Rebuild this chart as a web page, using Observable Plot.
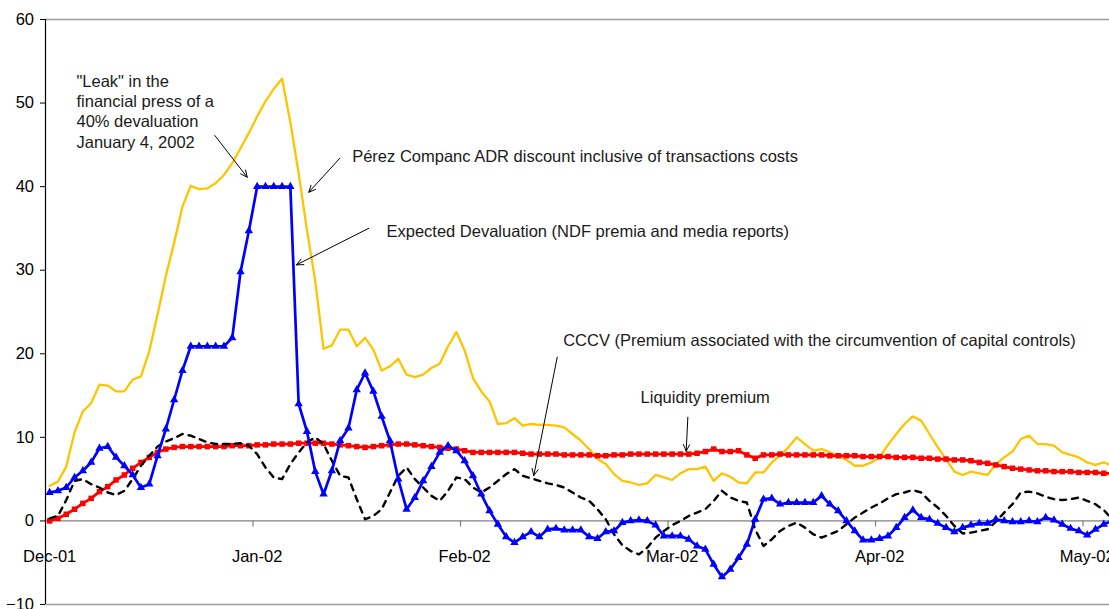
<!DOCTYPE html>
<html>
<head>
<meta charset="utf-8">
<script src="https://cdn.jsdelivr.net/npm/d3@7"></script>
<script src="https://cdn.jsdelivr.net/npm/@observablehq/plot@0.6"></script>
<style>
  html, body { margin: 0; padding: 0; background: #fff; }
  #chart svg { display: block; }
</style>
</head>
<body>
<div id="chart"></div>
<script>
const monthLabels = ["Dec-01", "Jan-02", "Feb-02", "Mar-02", "Apr-02", "May-02"];
const monthIndex = [0, 25, 50, 75, 100, 125];
const yTicks = [-10, 0, 10, 20, 30, 40, 50, 60];

// Pérez Companc ADR discount inclusive of transactions costs (yellow)
const adrDiscount = [
  4.2, 4.7, 6.5, 10.6, 13.1, 14.1, 16.3, 16.2, 15.5, 15.5, 16.9, 17.3, 20.3, 24.7, 29.3, 33.3, 37.6,
  40.1, 39.7, 39.8, 40.4, 41.4, 42.8, 44.6, 46.4, 48.4, 50.2, 51.7, 52.9, 47.7, 41.6, 34.8, 28.7,
  20.6, 21.0, 22.9, 22.9, 20.9, 21.9, 20.5, 18.0, 18.5, 19.4, 17.5, 17.2, 17.5, 18.3, 18.8, 20.9, 22.6, 20.4,
  17.1, 15.5, 14.3, 11.6, 11.7, 12.3, 11.4, 11.6, 11.5, 11.5, 11.4, 11.2, 10.4, 9.6, 8.6, 7.4,
  6.8, 5.6, 4.8, 4.6, 4.3, 4.5, 5.5, 5.2, 4.9, 5.7, 6.2, 6.2, 6.5, 4.8, 5.7, 5.3, 4.6, 4.5, 5.8, 5.8, 7.0, 7.8,
  8.8, 10.0, 9.2, 8.4, 8.6, 8.2, 7.8, 7.3, 6.6, 6.6, 7.0, 7.6, 9.1, 10.4, 11.6, 12.5, 12.0, 10.4, 8.8, 7.4, 5.9, 5.5,
  5.9, 5.7, 5.5, 6.8, 7.6, 8.3, 9.8, 10.2, 9.2, 9.2, 9.0, 8.2, 7.9, 7.6, 7.0, 6.7, 7.0, 6.6
];

// Expected Devaluation (NDF premia and media reports) (blue, triangles)
const expectedDevaluation = [
  3.4, 3.6, 4.0, 5.2, 6.0, 7.0, 8.7, 8.9, 7.6, 6.6, 5.5, 4.0, 4.4, 7.8, 11.0, 14.5, 18.0, 20.9, 20.9, 20.9, 20.9, 20.9, 21.9,
  29.8, 34.7, 40, 40, 40, 40, 40,
  14.0, 10.7, 5.9, 3.2, 6.0, 9.6, 11.1, 15.7, 17.7, 15.5, 12.5, 9.6, 5.0, 1.4,
  2.8, 4.8, 6.5, 8.2, 9.0, 8.4, 7.2, 5.4, 3.2, 1.2, -0.4, -1.9,
  -2.6, -1.9, -1.3, -1.9, -1.0, -0.9, -1.1, -1.1, -1.1, -1.9, -2.1, -1.3, -1.2, -0.2, 0, 0.1, 0, -0.5, -1.8, -1.8, -1.8, -2.2, -3.0, -3.4, -5.2, -6.7, -5.8, -4.4,
  -2.8, 0.2, 2.6, 2.7, 2.0, 2.2, 2.2, 2.2, 2.2, 3.0, 2.0, 1.2, 0, -1.2, -2.3, -2.3, -2.1, -1.8, -0.8, 0.4, 1.3, 0.4, 0.2, -0.3, -0.8, -1.3, -0.8, -0.5, -0.3, -0.3, 0.2, 0, -0.1, -0.1, 0, -0.1, 0.4, 0.1, -0.4, -0.9, -1.2, -1.7, -1.0, -0.4, 0
];

// CCCV (Premium associated with the circumvention of capital controls) (black dashed)
const cccv = [
  0.3, 0.6, 2.5, 4.8, 5.0, 4.4, 4.0, 3.4, 3.1, 3.6, 5.0, 6.6, 7.8, 8.9, 9.5, 9.9, 10.4, 10.2, 9.8, 9.4, 9.2, 9.2, 9.2, 9.3, 9.0,
  8.0, 6.4, 5.2, 5.0, 6.8, 8.2, 9.4, 10.0, 9.2, 7.2, 5.4, 5.2, 2.6, 0.2, 0.6, 1.4, 3.4,
  5.4, 6.4, 5.0, 4.0, 3.0, 2.4, 3.6, 5.2, 5.0, 4.0, 3.4, 4.0, 4.8, 5.6, 6.2, 5.4, 5.1, 4.8, 4.5, 4.3, 4.0, 3.4,
  2.8, 2.4, 1.4, 0.2, -1.6, -2.9, -3.6, -4.0, -3.2, -2.0, -1.2, -0.5, 0, 0.6, 1.0, 1.4, 2.4, 3.6, 2.8, 2.4, 2.2, -1.0,
  -3.0, -2.2, -1.2, -0.6, -0.2, -0.8, -1.6, -2.0, -1.6, -1.2, -0.4, 0.4, 1.0, 1.6, 2.1, 2.7, 3.2, 3.4, 3.7, 3.4, 2.4, 1.6, 0.6,
  -0.6, -1.5, -1.4, -1.2, -1.0, -0.1, 1.0, 2.0, 3.4, 3.5, 3.3, 2.9, 2.6, 2.5, 2.6, 2.8, 2.4, 2.0, 1.3, 0.2
];

// Liquidity premium (red, squares)
const liquidityPremium = [
  0, 0.3, 0.8, 1.4, 2.1, 2.7, 3.5, 4.1, 4.9, 5.5, 6.3, 7.0, 7.6, 8.2, 8.6, 8.8, 8.9,
  8.9, 8.9, 8.9, 8.9, 8.9, 9.0, 9.0, 9.0,
  9.1, 9.1, 9.2, 9.2, 9.2, 9.3, 9.3, 9.3, 9.3, 9.2, 9.1, 9.0, 8.9, 8.8, 8.9, 9.0, 9.1, 9.2, 9.2, 9.1, 9.0, 8.9, 8.8, 8.7, 8.6, 8.4,
  8.2, 8.2, 8.2, 8.2, 8.2, 8.2, 8.1, 8.0, 8.0, 8.0, 8.0, 7.9, 7.9, 7.9, 7.9,
  7.8, 7.8, 7.9, 7.9, 8.0, 8.0, 8.0, 8.0, 8.0, 8.0, 8.0, 8.0, 8.1, 8.3,
  8.6, 8.3, 8.3, 8.4, 7.9, 7.5, 7.9, 7.9, 8.0, 7.9, 7.9,
  7.9, 7.9, 7.9, 7.8, 7.8, 7.8, 7.8, 7.7, 7.7, 7.7, 7.7, 7.6, 7.6, 7.6, 7.5, 7.5, 7.4, 7.4, 7.3, 7.3,
  7.2, 7.0, 6.9, 6.7, 6.5, 6.3, 6.2, 6.1, 6.0, 6.0, 5.9, 5.9, 5.9, 5.8, 5.8, 5.8, 5.7, 5.7
];

// Annotation texts, anchored in data space (observation index, value)
const noteTexts = [
  "\"Leak\" in the\nfinancial press of a\n40% devaluation\nJanuary 4, 2002",
  "Pérez Companc ADR discount inclusive of transactions costs",
  "Expected Devaluation (NDF premia and media reports)",
  "CCCV (Premium associated with the circumvention of capital controls)",
  "Liquidity premium"
];
const noteX = [3.23, 36.45, 40.58, 61.87, 71.19];
const noteY = [53.67, 44.66, 35.71, 22.63, 15.84];
// Arrows: from (x1,y1) to (x2,y2)
const arrowX1 = [19.9, 34.96, 38.45, 61.15, 76.89];
const arrowY1 = [46.12, 43.40, 35.02, 19.59, 12.41];
const arrowX2 = [23.8, 31.22, 29.74, 58.33, 76.69];
const arrowY2 = [41.13, 39.33, 30.64, 5.43, 8.34];

// ---- Build tables ----
const series = (arr) => arr.map((v, i) => ({ i, v }));
const adr = series(adrDiscount);
const dev = series(expectedDevaluation);
const ccc = series(cccv);
const liq = series(liquidityPremium);
const notes = noteTexts.map((t, k) => ({ t, x: noteX[k], y: noteY[k] }));
const arrows = arrowX1.map((x1, k) => ({ x1, y1: arrowY1[k], x2: arrowX2[k], y2: arrowY2[k] }));
const months = monthLabels.map((m, k) => ({ m, i: monthIndex[k] }));
const monthTicks = monthIndex.slice(1).map((i) => i - 0.5);

const font = "'Liberation Sans', Arial, Helvetica, sans-serif";
const fs = 16.5;

const chart = Plot.plot({
  width: 1109,
  height: 609,
  marginLeft: 45,
  marginRight: 0,
  marginTop: 19,
  marginBottom: 5,
  style: { fontFamily: font, fontSize: fs + "px", background: "#fff", color: "#000", overflow: "hidden" },
  x: { domain: [-0.5, 127.69], axis: null },
  y: { domain: [-10, 60], axis: null },
  marks: [
    // plot-area border lines & zero line
    Plot.ruleY([60, -10], { stroke: "#9a9a9a", strokeWidth: 1.4 }),
    Plot.ruleY([0], { stroke: "#808080", strokeWidth: 1.3 }),
    Plot.ruleX(monthTicks, { y1: 0, y2: -0.72, stroke: "#808080", strokeWidth: 1.2 }),
    // y axis
    Plot.axisY(yTicks, { tickSize: 5, tickPadding: 6.5, fontSize: fs, label: null, stroke: "#000" }),
    Plot.ruleX([-0.5], { y1: -10, y2: 60, stroke: "#000", strokeWidth: 1.2 }),
    // month labels
    Plot.text(months, { x: "i", y: -4.33, text: "m", fontSize: fs, fill: "#000" }),
    // series
    Plot.line(adr, { x: "i", y: "v", stroke: "#FFC400", strokeWidth: 2.3 }),
    Plot.line(liq, { x: "i", y: "v", stroke: "#FF0000", strokeWidth: 2.8 }),
    Plot.dot(liq, { x: "i", y: "v", symbol: "square", r: 3.1, fill: "#FF0000" }),
    Plot.line(ccc, { x: "i", y: "v", stroke: "#000", strokeWidth: 2.4, strokeDasharray: "6,6" }),
    Plot.line(dev, { x: "i", y: "v", stroke: "#0000FF", strokeWidth: 2.7 }),
    Plot.dot(dev, { x: "i", y: "v", symbol: "triangle", r: 3.1, fill: "#0000FF" }),
    // annotations
    Plot.arrow(arrows, { x1: "x1", y1: "y1", x2: "x2", y2: "y2", stroke: "#000", strokeWidth: 1, headLength: 11, headAngle: 50 }),
    Plot.text(notes, { x: "x", y: "y", text: "t", textAnchor: "start", lineAnchor: "top", lineHeight: 1.23, fontSize: fs, fill: "#1a1a1a" })
  ]
});

document.getElementById("chart").appendChild(chart);
</script>
</body>
</html>
